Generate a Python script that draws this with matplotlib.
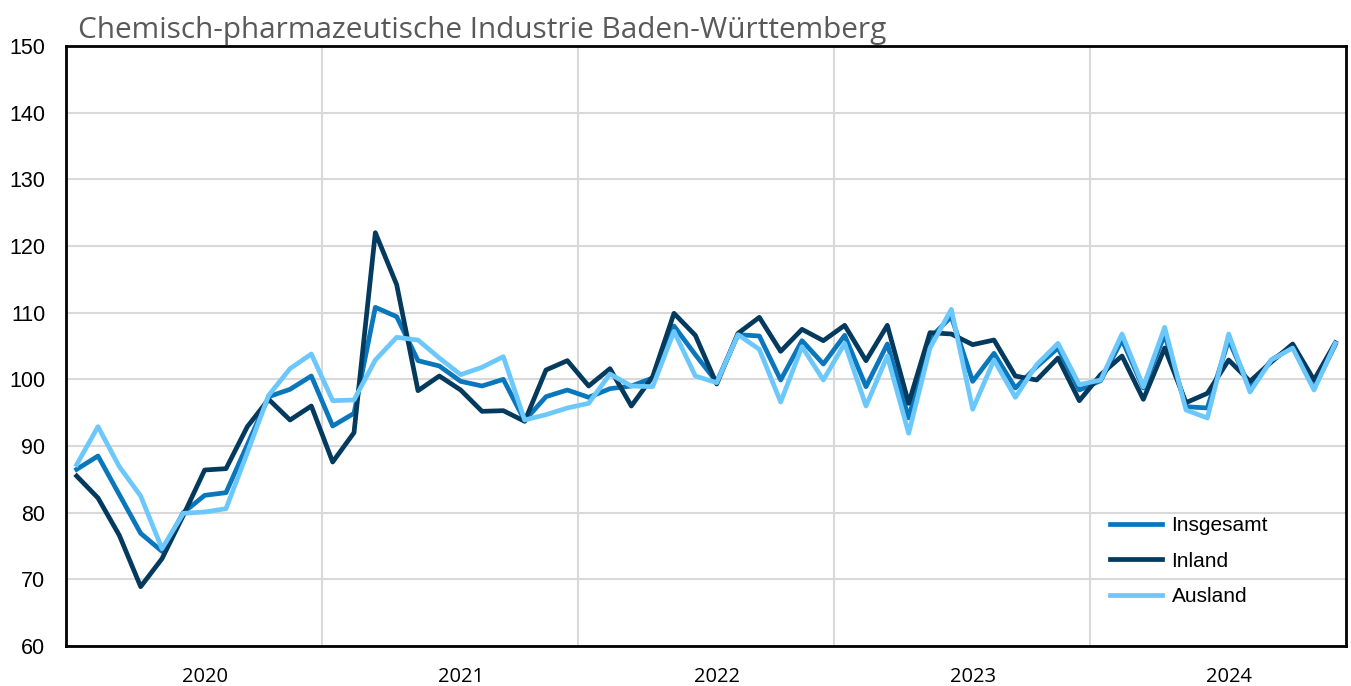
import matplotlib
matplotlib.use("Agg")
import matplotlib.pyplot as plt

years = ["2020", "2021", "2022", "2023", "2024"]

insgesamt = [
    86.5, 88.5, 82.7, 76.9, 74.2, 80.0, 82.6, 83.0, 90.2, 97.4, 98.5, 100.5,
    93.0, 94.9, 110.8, 109.4, 102.8, 102.0, 99.7, 99.0, 100.0, 93.8, 97.4, 98.4,
    97.3, 98.6, 99.0, 100.2, 108.0, 103.7, 99.6, 106.7, 106.5, 99.9, 105.8, 102.3,
    106.6, 98.9, 105.3, 94.2, 106.2, 109.4, 99.7, 103.9, 98.7, 101.9, 104.7, 98.4,
    99.8, 105.9, 98.7, 106.7, 95.9, 95.7, 105.9, 98.7, 102.9, 104.9, 98.7, 105.2,
]
inland = [
    85.5, 82.2, 76.6, 68.9, 73.1, 79.6, 86.4, 86.6, 92.9, 97.0, 93.9, 96.0,
    87.6, 92.0, 122.0, 114.2, 98.3, 100.5, 98.4, 95.2, 95.3, 93.7, 101.4, 102.8,
    99.0, 101.6, 96.0, 100.4, 109.9, 106.6, 99.3, 106.9, 109.3, 104.2, 107.5, 105.8,
    108.1, 102.8, 108.1, 96.4, 107.0, 106.8, 105.2, 105.9, 100.5, 99.9, 103.2, 96.8,
    100.7, 103.5, 97.0, 104.7, 96.5, 97.9, 102.9, 99.7, 102.6, 105.3, 99.9, 105.5,
]
ausland = [
    87.2, 92.9, 86.9, 82.5, 74.6, 79.9, 80.1, 80.6, 89.0, 97.6, 101.6, 103.8,
    96.8, 96.9, 102.9, 106.3, 105.9, 103.2, 100.7, 101.8, 103.4, 93.9, 94.7, 95.7,
    96.4, 100.8, 99.0, 98.9, 107.2, 100.5, 99.5, 106.7, 104.5, 96.6, 104.9, 99.9,
    105.4, 96.0, 103.5, 91.9, 104.7, 110.5, 95.5, 102.9, 97.3, 102.2, 105.4, 99.2,
    99.9, 106.8, 98.9, 107.8, 95.4, 94.2, 106.8, 98.1, 102.9, 104.7, 98.4, 105.4,
]

months = list(range(len(insgesamt)))

fig = plt.figure(figsize=(13.51, 6.86), dpi=100)
ax = fig.add_axes([66 / 1351, 40 / 686, 1280 / 1351, 600 / 686])

ax.plot(months, insgesamt, color="#0a76bb", lw=3.4, label="Insgesamt")
ax.plot(months, inland, color="#033a5e", lw=3.4, label="Inland")
ax.plot(months, ausland, color="#6cc8fb", lw=3.4, label="Ausland")

ax.set_xlim(-0.5, len(months) - 0.5)
ax.set_ylim(60, 150)
ax.set_yticks(range(60, 151, 10))

# Jahresgrenzen als Gitter, Jahreszahlen etwa mittig
ax.set_xticks([12 * k + 11.5 for k in range(len(years) - 1)], minor=True)
ax.set_xticks([12 * k + 6 for k in range(len(years))])
ax.set_xticklabels(years, fontfamily="Open Sans", fontsize=14.5)
ax.grid(True, which="minor", axis="x", color="#d9d9d9", lw=1.5)
ax.grid(True, which="major", axis="y", color="#d9d9d9", lw=1.5)
ax.set_axisbelow(True)
ax.tick_params(which="both", length=0)
ax.tick_params(axis="x", pad=15)
ax.tick_params(axis="y", pad=15)
for lbl in ax.get_yticklabels():
    lbl.set_fontfamily("Liberation Sans")
    lbl.set_fontsize(15.5)

for s in ax.spines.values():
    s.set_color("black")
    s.set_linewidth(2)

fig.text(78 / 1351, 1 - 38 / 686, "Chemisch-pharmazeutische Industrie Baden-Württemberg",
         fontfamily="Open Sans", fontsize=21.4, color="#595959")

leg = ax.legend(loc="upper left", bbox_to_anchor=((1110 - 66) / 1280, (646 - 516) / 600),
                frameon=False, borderpad=0, borderaxespad=0,
                prop={"family": "Liberation Sans", "size": 15},
                handlelength=2.5, labelspacing=0.8, handletextpad=0.45)

fig.savefig("out.png", dpi=100)
